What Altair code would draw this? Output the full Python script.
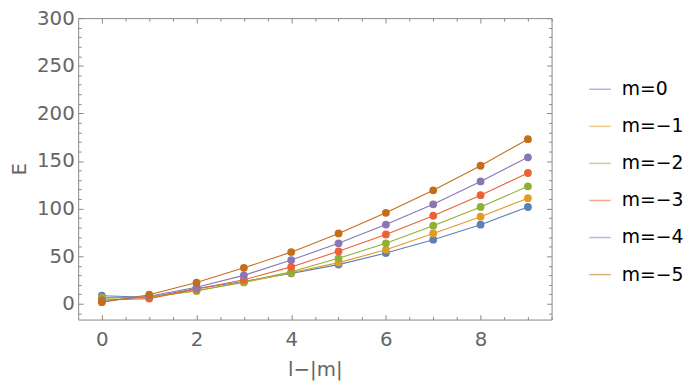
import altair as alt
import pandas as pd

# ---- data ----
x_vals = [0, 1, 2, 3, 4, 5, 6, 7, 8, 9]
m0 = [8.5, 7.0, 16.0, 23.5, 32.0, 41.2, 53.3, 67.4, 83.1, 101.7]
m1 = [6.5, 7.0, 14.0, 22.5, 32.6, 43.3, 56.7, 73.9, 91.5, 111.0]
m2 = [6.0, 7.0, 13.5, 23.0, 33.8, 47.8, 63.6, 82.1, 101.8, 123.4]
m3 = [4.0, 5.5, 15.5, 25.3, 38.8, 55.2, 72.9, 92.5, 114.1, 137.4]
m4 = [2.5, 8.0, 17.5, 29.9, 46.0, 63.6, 83.2, 104.5, 128.5, 153.9]
m5 = [1.7, 9.6, 22.4, 37.8, 54.3, 73.9, 95.6, 119.2, 145.0, 172.9]
labels = ["m=0", "m=\u22121", "m=\u22122", "m=\u22123", "m=\u22124", "m=\u22125"]
colors = ["#5E81B5", "#E19C24", "#8FB032", "#EB6235", "#8778B3", "#C56E1A"]
x_ticks = [i * 0.5 for i in range(0, 20)]
y_ticks = list(range(-10, 301, 10))

series = [m0, m1, m2, m3, m4, m5]
rows = []
for lab, ys in zip(labels, series):
    for xv, yv in zip(x_vals, ys):
        rows.append({"n": xv, "E": yv, "m": lab})
df = pd.DataFrame(rows)

FONT = "DejaVu Sans"
GRAY = "#888888"
LBL = "#666666"

xscale = alt.Scale(domain=[-0.5, 9.5], nice=False, zero=False)
yscale = alt.Scale(domain=[-16.5, 300], nice=False, zero=False)

x_size = {"condition": {"test": "datum.value % 2 === 0", "value": -5}, "value": -3}
y_size = {"condition": {"test": "datum.value % 50 === 0", "value": -5}, "value": -3}

x_axis_main = alt.Axis(
    orient="bottom", values=x_ticks, domain=False, grid=False,
    tickSize=x_size, tickColor=GRAY,
    labelExpr="datum.value % 2 === 0 ? format(datum.value, 'd') : ''",
    labelFont=FONT, labelFontSize=20, labelColor=LBL, labelPadding=15,
    title="l\u2212|m|", titleFont=FONT, titleFontSize=20, titleColor=LBL,
    titleFontWeight="normal", titlePadding=11,
)
y_axis_main = alt.Axis(
    orient="left", values=y_ticks, domain=False, grid=False,
    tickSize=y_size, tickColor=GRAY,
    labelExpr="datum.value % 50 === 0 ? format(datum.value, 'd') : ''",
    labelFont=FONT, labelFontSize=20, labelColor=LBL, labelPadding=9,
    title="E", titleFont=FONT, titleFontSize=20, titleColor=LBL,
    titleFontWeight="normal", titlePadding=7,
)
x_axis_top = alt.Axis(orient="top", values=x_ticks, domain=False, grid=False,
                      tickSize=x_size, tickColor=GRAY, labels=False, title=None)
y_axis_right = alt.Axis(orient="right", values=y_ticks, domain=False, grid=False,
                        tickSize=y_size, tickColor=GRAY, labels=False, title=None)

legend = alt.Legend(
    title=None, orient="none", legendX=516, legendY=60,
    symbolType="stroke", symbolSize=470, symbolStrokeWidth=1.5, symbolOpacity=0.55,
    labelFont=FONT, labelFontSize=19, labelColor="black",
    rowPadding=15.5, labelOffset=10, padding=0,
)

color_enc = alt.Color("m:N", scale=alt.Scale(domain=labels, range=colors), sort=labels, legend=legend)

base = alt.Chart(df)

lines = base.mark_line(strokeWidth=1.1).encode(
    x=alt.X("n:Q", scale=xscale, axis=x_axis_main),
    y=alt.Y("E:Q", scale=yscale, axis=y_axis_main),
    color=color_enc,
    detail="m:N",
)

points = base.mark_circle(size=62, opacity=1).encode(
    x=alt.X("n:Q", scale=xscale, axis=None),
    y=alt.Y("E:Q", scale=yscale, axis=None),
    color=alt.Color("m:N", scale=alt.Scale(domain=labels, range=colors), legend=None),
)

frame_ticks = base.mark_point(opacity=0).encode(
    x=alt.X("n:Q", scale=xscale, axis=x_axis_top),
    y=alt.Y("E:Q", scale=yscale, axis=y_axis_right),
)

chart = alt.layer(lines, points, frame_ticks).resolve_axis(
    x="independent", y="independent"
).properties(
    width=479, height=305,
    padding={"left": 71, "top": 8, "right": 136, "bottom": 67},
    autosize=alt.AutoSizeParams(type="none"),
).configure_view(stroke=GRAY, strokeWidth=1)

chart.save("out.html", embed_options={"renderer": "svg", "actions": False})
